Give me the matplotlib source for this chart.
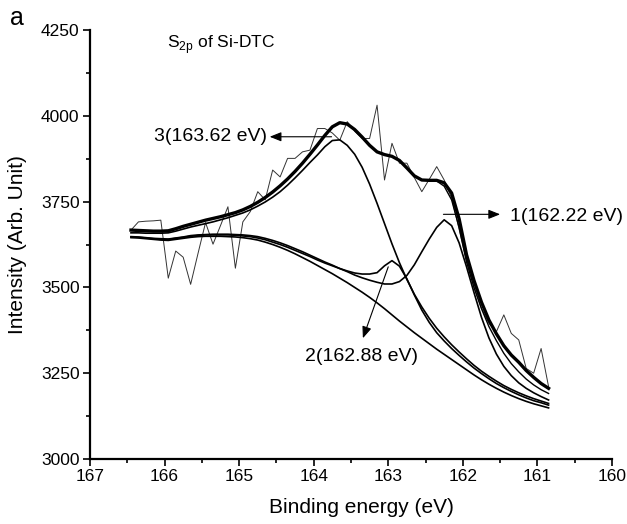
import numpy as np
import matplotlib
matplotlib.use("Agg")
import matplotlib.pyplot as plt
from matplotlib.ticker import MultipleLocator

plt.rcParams['font.family'] = ['Liberation Sans', 'DejaVu Sans']
plt.rcParams['mathtext.fontset'] = 'custom'
plt.rcParams['mathtext.rm'] = 'Liberation Sans'

# binding energy grid (eV), 0.1 eV steps from 166.45 down to 160.85
energy = [166.45, 166.35, 166.25, 166.15, 166.05, 165.95, 165.85, 165.75, 165.65, 165.55,
          165.45, 165.35, 165.25, 165.15, 165.05, 164.95, 164.85, 164.75, 164.65, 164.55,
          164.45, 164.35, 164.25, 164.15, 164.05, 163.95, 163.85, 163.75, 163.65, 163.55,
          163.45, 163.35, 163.25, 163.15, 163.05, 162.95, 162.85, 162.75, 162.65, 162.55,
          162.45, 162.35, 162.25, 162.15, 162.05, 161.95, 161.85, 161.75, 161.65, 161.55,
          161.45, 161.35, 161.25, 161.15, 161.05, 160.95, 160.85]

# raw spectrum
raw = [3667, 3691, 3693, 3694, 3696, 3527, 3606, 3588, 3509, 3600,
       3689, 3626, 3680, 3735, 3556, 3691, 3721, 3779, 3755, 3842,
       3822, 3876, 3876, 3895, 3900, 3963, 3963, 3950, 3929, 3983,
       3955, 3934, 3934, 4031, 3813, 3920, 3862, 3862, 3820, 3779,
       3815, 3852, 3813, 3760, 3670, 3575, 3500, 3440, 3395, 3371,
       3420, 3366, 3347, 3264, 3250, 3322, 3211]

# fitted envelope (thick)
envelope = [3667, 3666, 3665, 3664, 3664, 3665, 3671, 3678, 3684, 3690,
            3696, 3701, 3706, 3712, 3718, 3726, 3736, 3748, 3762, 3778,
            3796, 3816, 3838, 3862, 3888, 3915, 3943, 3968, 3980, 3976,
            3960, 3938, 3914, 3895, 3887, 3882, 3870, 3848, 3825, 3813,
            3812, 3812, 3805, 3775, 3700, 3595, 3520, 3457, 3405, 3365,
            3330, 3303, 3282, 3258, 3238, 3220, 3206]

# thin line next to the envelope on the low-energy edge
edge_energy = [162.35, 162.25, 162.15, 162.05, 161.95, 161.85, 161.75, 161.65,
               161.55, 161.45, 161.35, 161.25, 161.15, 161.05, 160.95, 160.85]
edge_line = [3810, 3795, 3755, 3675, 3575, 3500, 3438, 3386,
             3345, 3308, 3278, 3254, 3233, 3216, 3202, 3191]

# background
background = [3645, 3644, 3642, 3640, 3638, 3637, 3640, 3643, 3646, 3648,
              3649, 3649, 3649, 3648, 3647, 3645, 3642, 3638, 3632, 3625,
              3617, 3608, 3598, 3587, 3576, 3564, 3552, 3540, 3527, 3514,
              3500, 3486, 3471, 3455, 3438, 3420, 3402, 3385, 3368, 3352,
              3336, 3320, 3305, 3290, 3275, 3260, 3245, 3231, 3218, 3206,
              3195, 3185, 3176, 3168, 3161, 3155, 3149]

# peak 1 (162.22 eV) on background
peak1 = [3648, 3647, 3645, 3643, 3642, 3641, 3644, 3647, 3651, 3653,
         3654, 3655, 3655, 3655, 3654, 3653, 3651, 3648, 3643, 3637,
         3630, 3622, 3613, 3604, 3594, 3584, 3574, 3565, 3555, 3546,
         3536, 3528, 3521, 3515, 3510, 3510, 3517, 3535, 3566, 3604,
         3641, 3675, 3697, 3680, 3630, 3560, 3485, 3413, 3353, 3306,
         3270, 3243, 3222, 3206, 3193, 3182, 3172]

# peak 2 (162.88 eV) on background
peak2 = [3647, 3646, 3644, 3642, 3640, 3640, 3643, 3646, 3649, 3651,
         3653, 3653, 3653, 3653, 3652, 3650, 3648, 3644, 3639, 3632,
         3625, 3617, 3608, 3599, 3590, 3580, 3571, 3563, 3555, 3548,
         3542, 3539, 3539, 3543, 3563, 3578, 3562, 3525, 3478, 3434,
         3398, 3368, 3344, 3322, 3302, 3283, 3265, 3249, 3234, 3220,
         3208, 3197, 3187, 3178, 3170, 3164, 3157]

# peak 3 (163.62 eV) on background
peak3 = [3659, 3659, 3658, 3658, 3658, 3659, 3664, 3670, 3676, 3681,
         3686, 3691, 3697, 3703, 3710, 3717, 3726, 3737, 3749, 3763,
         3779, 3798, 3819, 3841, 3864, 3886, 3910, 3928, 3930, 3914,
         3888, 3850, 3801, 3745, 3686, 3627, 3572, 3523, 3480, 3443,
         3410, 3381, 3356, 3333, 3312, 3292, 3273, 3256, 3241, 3227,
         3214, 3203, 3193, 3184, 3176, 3169, 3162]

fig = plt.figure(figsize=(6.27, 5.24), dpi=100)
ax = fig.add_axes([0.1435, 0.124, 0.8325, 0.8187])

ax.plot(energy, raw, color='#333333', lw=0.7)
ax.plot(energy, background, color='black', lw=1.2)
ax.plot(energy, peak1, color='black', lw=1.2)
ax.plot(energy, peak2, color='black', lw=1.2)
ax.plot(energy, peak3, color='black', lw=1.2)
ax.plot(edge_energy, edge_line, color='black', lw=1.0)
ax.plot(energy, envelope, color='black', lw=2.4)

ax.set_xlim(167, 160)
ax.set_ylim(3000, 4250)
ax.xaxis.set_major_locator(MultipleLocator(1))
ax.xaxis.set_minor_locator(MultipleLocator(0.5))
ax.yaxis.set_major_locator(MultipleLocator(250))
ax.yaxis.set_minor_locator(MultipleLocator(125))
ax.tick_params(which='major', direction='out', length=5, width=1.2, labelsize=12.5, pad=2.5)
ax.tick_params(which='minor', direction='out', length=3, width=1.2)
for side in ['top', 'right']:
    ax.spines[side].set_visible(False)
for side in ['left', 'bottom']:
    ax.spines[side].set_linewidth(1.6)

ax.set_xlabel('Binding energy (eV)', fontsize=15)
ax.xaxis.set_label_coords(0.521, -0.092)
ax.set_ylabel('Intensity (Arb. Unit)', fontsize=15, labelpad=10)

ax.text(165.97, 4208, r'S$_{\mathregular{2p}}$ of Si-DTC', fontsize=12.5, ha='left', va='center')
fig.text(0.016, 0.965, 'a', fontsize=18, ha='left', va='center')

arrow = dict(arrowstyle='-|>,head_length=0.5,head_width=0.2', color='black', lw=0.8,
             mutation_scale=14, shrinkA=0, shrinkB=0)
ax.annotate('', xy=(164.59, 3939), xytext=(163.76, 3939), arrowprops=arrow)
ax.text(164.62, 3939, '3(163.62 eV)', fontsize=14, ha='right', va='center')

ax.annotate('', xy=(161.50, 3713), xytext=(162.26, 3713), arrowprops=arrow)
ax.text(161.37, 3708, '1(162.22 eV)', fontsize=14, ha='left', va='center')

ax.annotate('', xy=(163.34, 3352), xytext=(163.0, 3560), arrowprops=arrow)
ax.text(163.36, 3298, '2(162.88 eV)', fontsize=14, ha='center', va='center')

fig.savefig('out.png', dpi=100)
